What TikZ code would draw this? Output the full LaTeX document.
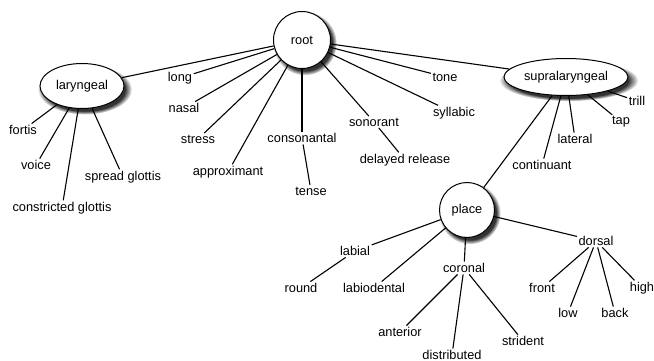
\documentclass[tikz,border=0pt]{standalone}
\usepackage{fontspec}
\setmainfont{Liberation Sans}
\usetikzlibrary{shapes.geometric,shadows}
\tikzset{
  feat/.style={inner sep=1.5pt, font=\fontsize{12.8}{15}\selectfont},
  bignode/.style={draw, fill=white, line width=1pt, inner sep=1pt,
    font=\fontsize{12.8}{15}\selectfont,
    circular drop shadow={shadow xshift=2.5pt, shadow yshift=-3pt, shadow scale=1.12, fill=black!80}},
  edge/.style={line width=1.1pt}
}
\begin{document}
\begin{tikzpicture}[x=1pt,y=-1pt]
    \useasboundingbox (0,0) rectangle (654,361);
    % class nodes
    \node[bignode, circle, minimum size=57pt] (root) at (302,40) {root};
    \node[bignode, ellipse, minimum width=84pt, minimum height=45pt] (lar) at (82,86) {laryngeal};
    \node[bignode, ellipse, minimum width=124pt, minimum height=37pt] (supra) at (566,77) {supralaryngeal};
    \node[bignode, circle, minimum size=55pt] (place) at (467,210) {place};
    % features under root
    \node[feat] (long) at (180,78) {long};
    \node[feat] (nasal) at (184,108) {nasal};
    \node[feat] (stress) at (198,139) {stress};
    \node[feat] (approx) at (228,172) {approximant};
    \node[feat] (cons) at (302,138) {consonantal};
    \node[feat] (tense) at (311,191) {tense};
    \node[feat] (son) at (374,122) {sonorant};
    \node[feat] (delrel) at (405,160) {delayed release};
    \node[feat] (tone) at (445,77) {tone};
    \node[feat] (syll) at (454,113) {syllabic};
    % laryngeal features
    \node[feat] (fortis) at (23,130) {fortis};
    \node[feat] (voice) at (36,165) {voice};
    \node[feat] (spread) at (123,177) {spread glottis};
    \node[feat] (constr) at (62,208) {constricted glottis};
    % supralaryngeal features
    \node[feat] (trill) at (637,101) {trill};
    \node[feat] (tap) at (621,122) {tap};
    \node[feat] (lateral) at (575,139) {lateral};
    \node[feat] (cont) at (542,165) {continuant};
    % place features
    \node[feat] (labial) at (355,251) {labial};
    \node[feat] (round) at (301,288) {round};
    \node[feat] (labiodent) at (374,288) {labiodental};
    \node[feat] (coronal) at (464,268) {coronal};
    \node[feat] (anterior) at (400,332) {anterior};
    \node[feat] (distrib) at (452,355) {distributed};
    \node[feat] (strident) at (523,341) {strident};
    \node[feat] (dorsal) at (596,241) {dorsal};
    \node[feat] (front) at (542,288) {front};
    \node[feat] (low) at (568,313) {low};
    \node[feat] (back) at (615,313) {back};
    \node[feat] (high) at (642,288) {high};
    % edges
    \draw[edge] (root) -- (lar);
    \draw[edge] (root) -- (supra);
    \draw[edge] (root) -- (long);
    \draw[edge] (root) -- (nasal);
    \draw[edge] (root) -- (stress);
    \draw[edge] (root) -- (approx);
    \draw[edge] (root) -- (cons);
    \draw[edge] (cons) -- (tense);
    \draw[edge] (root) -- (son);
    \draw[edge] (son) -- (delrel);
    \draw[edge] (root) -- (tone);
    \draw[edge] (root) -- (syll);
    \draw[edge] (lar) -- (fortis);
    \draw[edge] (lar) -- (voice);
    \draw[edge] (lar) -- (spread);
    \draw[edge] (lar) -- (constr);
    \draw[edge] (supra) -- (trill);
    \draw[edge] (supra) -- (tap);
    \draw[edge] (supra) -- (lateral);
    \draw[edge] (supra) -- (cont);
    \draw[edge] (supra) -- (place);
    \draw[edge] (place) -- (labial);
    \draw[edge] (labial) -- (round);
    \draw[edge] (place) -- (labiodent);
    \draw[edge] (place) -- (coronal);
    \draw[edge] (coronal) -- (anterior);
    \draw[edge] (coronal) -- (distrib);
    \draw[edge] (coronal) -- (strident);
    \draw[edge] (place) -- (dorsal);
    \draw[edge] (dorsal) -- (front);
    \draw[edge] (dorsal) -- (low);
    \draw[edge] (dorsal) -- (back);
    \draw[edge] (dorsal) -- (high);
\end{tikzpicture}
\end{document}
